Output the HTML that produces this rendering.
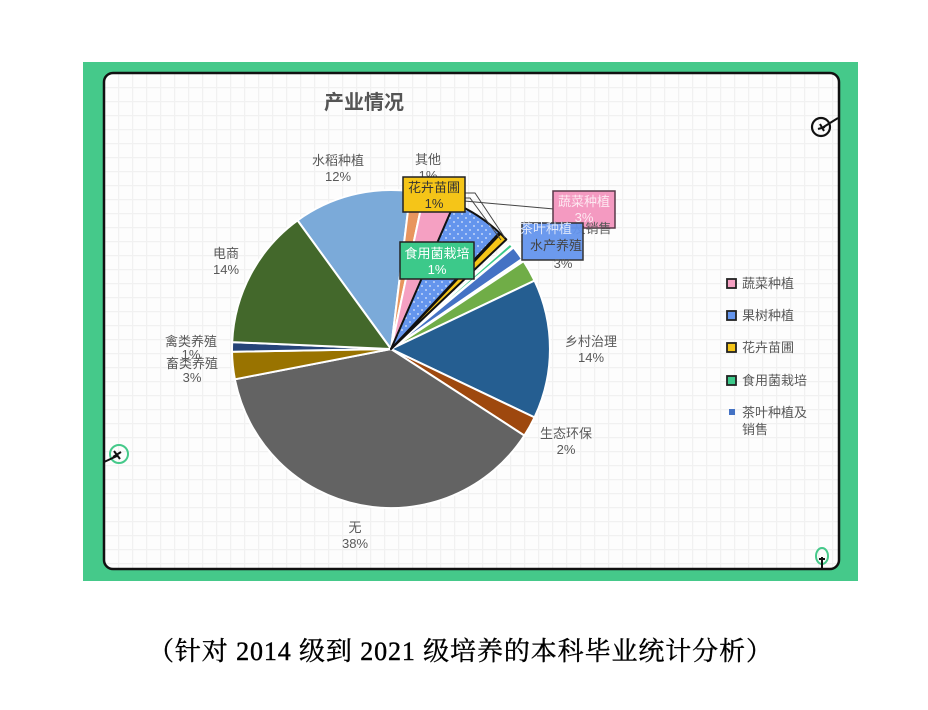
<!DOCTYPE html>
<html><head><meta charset="utf-8">
<style>
html,body{margin:0;padding:0;background:#fff;}
svg{display:block;}
.t{font-family:"Liberation Sans","Noto Sans CJK SC",sans-serif;font-size:13px;fill:#595959;text-anchor:middle;}
.lg{font-family:"Liberation Sans","Noto Sans CJK SC",sans-serif;font-size:13px;fill:#595959;}
</style></head>
<body>
<svg width="928" height="710" viewBox="0 0 928 710" xmlns="http://www.w3.org/2000/svg">
<defs>
<pattern id="grid" x="104" y="73" width="14" height="14" patternUnits="userSpaceOnUse">
<rect width="14" height="14" fill="#fdfdfd"/>
<path d="M0 0.5H14M0.5 0V14" stroke="#f1f1f1" stroke-width="1.5" fill="none"/>
</pattern>
<pattern id="dots" x="0" y="0" width="8" height="8" patternUnits="userSpaceOnUse">
<rect width="8" height="8" fill="#6495ED"/>
<circle cx="2" cy="2" r="0.9" fill="#dfe9fb"/>
<circle cx="6" cy="6" r="0.9" fill="#dfe9fb"/>
</pattern>
</defs>
<rect x="0" y="0" width="928" height="710" fill="#fff"/>
<!-- green frame -->
<rect x="83" y="62" width="775" height="519" fill="#45C98A"/>
<rect x="104" y="73" width="735" height="496" rx="9" ry="9" fill="url(#grid)" stroke="#111" stroke-width="2.5"/>

<!-- title -->
<text x="364" y="109" style="font-family:'Liberation Sans','Noto Sans CJK SC',sans-serif;font-size:20px;font-weight:bold;fill:#555;" text-anchor="middle">产业情况</text>

<!-- pie -->
<g stroke="#fff" stroke-width="2" stroke-linejoin="round">
<path d="M391,349 L297.5,220.4 A159,159 0 0 1 410.4,191.2 Z" fill="#7BAAD9"/>
<path d="M391,349 L410.4,191.2 A159,159 0 0 1 424.1,193.5 Z" fill="#E8955E"/>
<path d="M391,349 L424.1,193.5 A159,159 0 0 1 454.4,203.2 Z" fill="#F5A0C2"/>
<path d="M391,349 L510.1,243.6 A159,159 0 0 1 512.8,246.8 Z" fill="#3CC98A"/>
<path d="M391,349 L513.5,247.5 A159,159 0 0 1 522.0,258.9 Z" fill="#4472C4"/>
<path d="M391,349 L523.6,261.2 A159,159 0 0 1 534.5,280.6 Z" fill="#70AD47"/>
<path d="M391,349 L534.5,280.6 A159,159 0 0 1 534.5,417.4 Z" fill="#255E91"/>
<path d="M391,349 L534.5,417.4 A159,159 0 0 1 524.4,435.6 Z" fill="#9E480E"/>
<path d="M391,349 L524.4,435.6 A159,159 0 0 1 234.9,379.3 Z" fill="#636363"/>
<path d="M391,349 L234.9,379.3 A159,159 0 0 1 232.0,351.8 Z" fill="#997300"/>
<path d="M391,349 L232.0,351.8 A159,159 0 0 1 232.2,342.1 Z" fill="#264478"/>
<path d="M391,349 L232.2,342.1 A159,159 0 0 1 297.5,220.4 Z" fill="#43682B"/>
</g>
<g stroke="#111" stroke-width="2" stroke-linejoin="round">
<path d="M391,349 L454.4,203.2 A159,159 0 0 1 499.4,232.7 Z" fill="url(#dots)"/>
<path d="M391,349 L500.5,233.7 A159,159 0 0 1 506.3,239.5 Z" fill="#F5C518"/>
</g>

<!-- leader lines -->
<g stroke="#444" stroke-width="1" fill="none">
<polyline points="464,193 475,193 505,238"/>
<polyline points="463,198 470,198 501,240"/>
<polyline points="464,201 554,209"/>
</g>

<!-- labels -->
<text class="t" x="338" y="165">水稻种植</text>
<text class="t" x="338" y="181">12%</text>
<text class="t" x="428" y="164">其他</text>
<text class="t" x="428" y="180">1%</text>

<rect x="403" y="177" width="62" height="35" fill="#F5C518" stroke="#222" stroke-width="1.5"/>
<text class="t" x="434" y="192" style="fill:#333">花卉苗圃</text>
<text class="t" x="434" y="208" style="fill:#333">1%</text>

<rect x="553" y="191" width="62" height="37" fill="#F49AC1" stroke="#5a3a4a" stroke-width="1.5"/>
<text class="t" x="584" y="206" style="fill:#fde8f1">蔬菜种植</text>
<text class="t" x="584" y="222" style="fill:#fde8f1">3%</text>

<text class="t" x="566" y="233">茶叶种植及销售</text>
<rect x="522" y="223" width="61" height="37" fill="#6495ED" stroke="#333" stroke-width="1.5" fill-opacity="0.95"/>
<text class="t" x="546" y="233" style="fill:#dfe8fb">茶叶种植</text>
<text class="t" x="556" y="250" style="fill:#444">水产养殖</text>
<text class="t" x="563" y="268">3%</text>

<rect x="400" y="242" width="74" height="37" fill="#3CC98A" stroke="#222" stroke-width="1.5"/>
<text class="t" x="437" y="258" style="fill:#fff">食用菌栽培</text>
<text class="t" x="437" y="274" style="fill:#fff">1%</text>

<text class="t" x="226" y="258">电商</text>
<text class="t" x="226" y="274">14%</text>
<text class="t" x="191" y="346">禽类养殖</text>
<text class="t" x="191" y="359">1%</text>
<text class="t" x="192" y="368">畜类养殖</text>
<text class="t" x="192" y="382">3%</text>
<text class="t" x="591" y="346">乡村治理</text>
<text class="t" x="591" y="362">14%</text>
<text class="t" x="566" y="438">生态环保</text>
<text class="t" x="566" y="454">2%</text>
<text class="t" x="355" y="532">无</text>
<text class="t" x="355" y="548">38%</text>

<!-- legend -->
<rect x="727" y="279" width="9" height="9" fill="#F5A0C2" stroke="#222" stroke-width="1.8"/>
<text class="lg" x="742" y="288">蔬菜种植</text>
<rect x="727" y="311" width="9" height="9" fill="#6495ED" stroke="#222" stroke-width="1.8"/>
<text class="lg" x="742" y="320">果树种植</text>
<rect x="727" y="343" width="9" height="9" fill="#F5C518" stroke="#222" stroke-width="1.8"/>
<text class="lg" x="742" y="352">花卉苗圃</text>
<rect x="727" y="376" width="9" height="9" fill="#3CC98A" stroke="#222" stroke-width="1.8"/>
<text class="lg" x="742" y="385">食用菌栽培</text>
<rect x="729" y="409" width="6" height="6" fill="#4472C4"/>
<text class="lg" x="742" y="417">茶叶种植及</text>
<text class="lg" x="742" y="434">销售</text>

<!-- corner decorations -->
<circle cx="821" cy="127" r="9" fill="none" stroke="#111" stroke-width="2.2"/>
<path d="M822,128 L838,118 M820,124 L824,131 M818,129 L825,127" stroke="#111" stroke-width="2" fill="none"/>
<circle cx="119" cy="454" r="9" fill="none" stroke="#45C98A" stroke-width="2"/>
<path d="M104,462 L117,456 M114,451 L120,459 M113,457 L121,452" stroke="#111" stroke-width="2" fill="none"/>
<ellipse cx="822" cy="556" rx="6" ry="8" fill="none" stroke="#45C98A" stroke-width="2"/>
<path d="M822,557 L822,569 M819,559 L825,559" stroke="#111" stroke-width="2" fill="none"/>

<!-- caption -->
<text x="460" y="660" textLength="624" lengthAdjust="spacing" text-anchor="middle" style="font-family:'Liberation Serif','Noto Serif CJK SC',serif;font-size:26px;fill:#000;stroke:#000;stroke-width:0.4;">（针对 2014 级到 2021 级培养的本科毕业统计分析）</text>
</svg>
</body></html>
